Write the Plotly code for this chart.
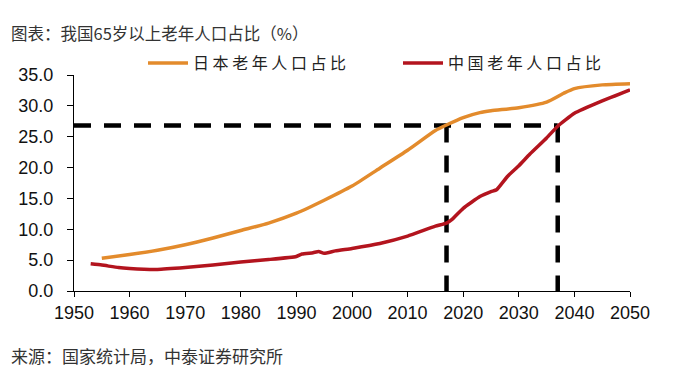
import plotly.graph_objects as go

# ---- data ----
japan_years = [1955, 1960, 1965, 1970, 1975, 1980, 1985, 1990, 1995, 2000, 2005, 2010,
               2015, 2017, 2020, 2023, 2025, 2030, 2035, 2038, 2040, 2045, 2050]
japan_values = [5.3, 5.9, 6.6, 7.5, 8.6, 9.8, 11.0, 12.6, 14.7, 17.0, 19.9, 22.8,
                26.0, 26.9, 28.1, 28.9, 29.2, 29.7, 30.6, 32.0, 32.8, 33.4, 33.6]

china_years = [1953, 1955, 1958, 1960, 1965, 1970, 1975, 1980, 1985, 1990, 1991, 1993,
               1994, 1995, 1997, 2000, 2005, 2010, 2015, 2017, 2018, 2020, 2023, 2025,
               2026, 2028, 2030, 2032, 2035, 2037, 2040, 2045, 2050]
china_values = [4.4, 4.2, 3.8, 3.65, 3.5, 3.8, 4.2, 4.7, 5.1, 5.6, 6.0, 6.2,
                6.4, 6.1, 6.5, 6.9, 7.7, 8.9, 10.5, 11.0, 11.6, 13.4, 15.3, 16.1,
                16.4, 18.6, 20.3, 22.2, 24.8, 26.7, 28.8, 30.8, 32.6]

threshold_value = 26.8          # share reached by Japan in 2017
japan_cross_year = 2017
china_cross_year = 2037

japan_name = "日 本 老 年 人 口 占 比"
china_name = "中 国 老 年 人 口 占 比"
title_text = "图表：我国65岁以上老年人口占比（%）"
source_text = "来源：国家统计局，中泰证券研究所"

x_ticks = list(range(1950, 2051, 10))
y_ticks = [0, 5, 10, 15, 20, 25, 30, 35]

# ---- figure ----
fig = go.Figure()

dash_style = dict(color="black", width=4.5, dash="17px,13px")
fig.add_trace(go.Scatter(x=[x_ticks[0], china_cross_year], y=[threshold_value, threshold_value],
                         mode="lines", line=dash_style, showlegend=False, hoverinfo="skip"))
fig.add_trace(go.Scatter(x=[japan_cross_year, japan_cross_year], y=[threshold_value, 0],
                         mode="lines", line=dash_style, showlegend=False, hoverinfo="skip"))
fig.add_trace(go.Scatter(x=[china_cross_year, china_cross_year], y=[threshold_value, 0],
                         mode="lines", line=dash_style, showlegend=False, hoverinfo="skip"))

fig.add_trace(go.Scatter(x=japan_years, y=japan_values, mode="lines", name=japan_name,
                         legend="legend",
                         line=dict(color="#E38B2C", width=3.5, shape="spline", smoothing=0.6)))
fig.add_trace(go.Scatter(x=china_years, y=china_values, mode="lines", name=china_name,
                         legend="legend2",
                         line=dict(color="#B3141E", width=3.5, shape="spline", smoothing=0.4)))

axis_font = dict(family="Liberation Sans, Arial, sans-serif", size=18, color="#111")
legend_font = dict(family="Noto Sans CJK SC", size=16, color="#222")

# the page body adds an 8px offset; target positions are given in page pixels
OFF = 8
W, H = 682, 374
L = 74 - OFF
T = 75 - OFF
R = W - (630 - OFF)
B = H - (291 - OFF)
plot_w = W - L - R
plot_h = H - T - B

def px_x(px):
    return (px - OFF - L) / plot_w

def px_y(py):
    return (H - B - (py - OFF)) / plot_h

nbsp = "\u00a0"

fig.update_layout(
    width=W, height=H,
    margin=dict(l=L, r=R, t=T, b=B, pad=0, autoexpand=False),
    paper_bgcolor="white", plot_bgcolor="white",
    showlegend=True,
    legend=dict(x=px_x(143), y=px_y(63), xanchor="left", yanchor="middle",
                font=legend_font, bgcolor="rgba(0,0,0,0)", itemwidth=40),
    legend2=dict(x=px_x(398), y=px_y(63), xanchor="left", yanchor="middle",
                 font=legend_font, bgcolor="rgba(0,0,0,0)", itemwidth=40),
    xaxis=dict(range=[1950, 2050], tickvals=x_ticks, ticktext=[str(v) for v in x_ticks],
               showgrid=False, zeroline=False, showline=True, linecolor="black", linewidth=1.2,
               ticks="outside", ticklen=5, tickcolor="black", tickwidth=1.2,
               tickfont=axis_font),
    yaxis=dict(range=[0, 35], tickvals=y_ticks,
               ticktext=[f"{v:.1f}" + nbsp * 2 for v in y_ticks],
               showgrid=False, zeroline=False, showline=True, linecolor="black", linewidth=1.2,
               ticks="outside", ticklen=6, tickcolor="black", tickwidth=1.2,
               tickfont=axis_font),
    annotations=[
        dict(text=title_text, xref="paper", yref="paper", x=px_x(9), y=px_y(33),
             xanchor="left", yanchor="middle", showarrow=False,
             font=dict(family="Noto Sans CJK SC", size=16.5, color="#333")),
        dict(text=source_text, xref="paper", yref="paper", x=px_x(9), y=px_y(355),
             xanchor="left", yanchor="middle", showarrow=False,
             font=dict(family="Noto Sans CJK SC", size=17, color="#333")),
    ],
)

fig.write_html("out.html")
